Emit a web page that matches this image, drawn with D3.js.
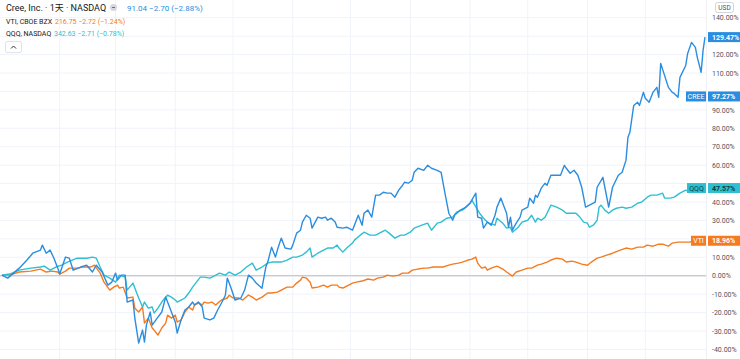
<!DOCTYPE html>
<html><head><meta charset="utf-8">
<script src="https://cdn.jsdelivr.net/npm/d3@7"></script>
<style>
html,body{margin:0;padding:0;background:#fff;}
svg{display:block;font-family:Roboto,"Noto Sans CJK SC",sans-serif;}
</style></head>
<body><svg id="c" width="740" height="359"></svg>
<script>
// Day offsets from 2020-01-01 and % change values
const creeDays = [1,4,7,10,14,17,21,22,24,26,28,30,31,34,36,38,42,45,48,50,53,56,58,60,61,63,65,66,69,70,72,74,75,76,78,79,82,84,86,87,89,91,92,94,96,98,100,101,103,105,106,109,111,113,115,117,118,120,122,125,127,129,131,133,136,138,139,141,143,144,146,148,151,152,154,156,157,159,161,162,165,167,169,170,172,174,175,178,180,183,184,186,188,189,191,193,195,197,199,201,203,205,207,209,210,212,214,215,217,220,222,224,227,229,231,233,235,236,239,241,244,247,248,250,251,253,255,257,258,260,261,263,264,265,266,268,270,271,274,275,277,278,279,281,283,284,286,289,291,293,294,296,298,300,302,304,306,309,310,313,314,316,318,319,321,323,325,326,327,329,331,332,334,335,337,339,341,342,343,345,347,349,350,352,353,356,357,359,361,362,364,365,366];
const creeValues = [0.3,-1.3,1.4,4.1,8.5,12.2,13.9,16.6,12.2,13.9,9.5,4.1,0.9,10.1,9.5,3.0,4.7,5.7,2.0,5.7,2.0,-5.1,-3.5,1.4,-2.4,0.3,0.3,-14.3,-13.2,-23.0,-36.6,-29.5,-36.0,-26.8,-19.7,-26.8,-22.5,-19.7,-11.6,-14.3,-19.7,-25.1,-31.1,-24.0,-18.6,-17.0,-14.3,-15.9,-14.3,-17.0,-23.0,-24.0,-23.0,-18.6,-14.8,-10.6,-1.3,-6.8,-13.2,-12.2,-7.8,0.3,-1.3,-4.0,-6.8,4.7,7.4,15.5,10.1,13.9,20.4,15.0,14.4,16.6,23.1,24.7,29.1,32.8,31.2,25.8,31.8,31.2,31.8,30.1,31.2,29.1,26.3,25.8,26.3,24.7,27.4,32.8,27.4,33.9,35.6,31.8,43.7,43.7,45.3,44.8,44.8,42.6,46.4,49.1,50.7,50.2,51.8,56.1,58.3,57.2,59.9,58.3,57.2,56.1,44.8,33.9,30.1,32.8,35.6,36.6,39.3,44.8,31.8,31.2,25.8,29.1,27.4,32.8,37.2,42.1,39.3,33.9,26.3,31.8,24.7,28.5,31.8,35.6,37.2,42.1,39.3,43.7,42.6,47.5,50.2,49.1,54.5,54.5,54.5,59.9,58.3,55.6,57.2,54.5,48.0,37.2,38.3,39.9,48.0,53.4,48.0,37.2,48.0,50.2,54.5,56.1,62.7,75.1,77.8,92.4,94.1,92.4,99.5,96.3,94.1,99.5,102.2,96.8,115.2,108.7,102.2,99.5,98.9,96.8,107.6,114.1,120.6,126.6,123.9,118.5,110.4,122.3,129.47];

const qqqDays = [1,5,10,16,21,23,26,29,32,35,40,45,48,50,52,54,57,60,62,65,66,69,70,72,74,75,77,79,80,82,84,86,87,89,91,92,94,96,98,100,102,104,106,109,112,114,117,119,122,125,128,131,133,136,139,141,144,146,149,152,154,157,159,161,162,165,168,170,173,175,176,178,180,183,184,187,189,192,195,197,200,202,205,208,210,213,215,219,222,224,227,229,232,235,237,240,242,244,245,248,249,251,253,254,257,258,261,263,265,266,269,271,274,276,278,279,281,283,284,286,289,292,294,297,299,301,303,305,306,308,310,311,312,314,316,318,320,323,325,328,331,333,336,338,341,344,345,348,350,353,356,358,361,363,366];
const qqqValues = [0.3,0.9,3.0,4.1,4.7,5.2,3.0,4.7,5.7,7.4,9.5,9.5,10.1,9.5,4.7,0.3,-1.3,-3.5,0.3,-0.8,-7.8,-4.0,-6.7,-12.1,-17.0,-14.3,-17.6,-17.0,-20.3,-17.6,-14.3,-11.6,-10.6,-11.6,-13.2,-14.3,-13.2,-12.1,-9.4,-6.2,-3.5,-0.8,-0.8,-1.3,0.3,1.4,0.3,2.0,0.3,2.0,4.7,6.8,3.0,4.7,6.8,7.4,7.4,7.4,8.5,10.1,10.1,11.2,12.8,15.0,10.1,12.2,13.9,15.0,15.0,16.6,15.0,12.8,15.0,17.7,19.3,22.0,23.6,22.0,22.0,23.1,24.7,23.1,20.4,22.0,22.0,23.6,25.8,27.4,28.5,24.7,28.5,29.1,31.2,31.8,34.5,35.6,37.2,39.3,41.0,35.6,33.9,31.2,29.1,28.5,27.4,31.2,28.5,25.8,26.3,23.6,26.3,29.1,30.1,32.8,29.1,31.2,30.1,31.8,33.9,38.3,37.2,35.6,33.9,33.9,33.9,31.8,29.1,28.5,26.3,27.4,30.1,37.2,38.3,35.6,33.9,35.6,36.6,37.2,36.6,37.2,39.3,39.9,42.6,43.7,43.7,44.8,42.1,42.1,42.6,44.8,46.4,45.3,46.4,47.5,47.57];

const vtiDays = [1,5,10,16,21,24,27,30,31,34,36,40,43,47,49,52,54,57,59,61,62,64,66,69,70,72,74,75,77,79,80,82,84,86,87,89,91,92,94,96,98,100,101,103,105,106,108,110,112,113,115,118,119,121,124,126,129,131,133,136,139,141,144,146,149,152,154,156,157,159,161,162,165,168,170,172,175,176,178,180,183,185,188,191,194,196,199,201,204,207,209,212,214,217,220,222,225,227,230,233,235,238,240,243,245,247,248,250,252,253,255,258,261,263,266,268,271,274,276,279,281,284,286,289,292,294,297,299,302,305,307,310,312,315,318,322,325,328,331,334,336,339,342,344,347,349,352,354,358,361,363,366];
const vtiValues = [0.3,0.3,2.0,2.5,3.6,2.0,2.5,2.0,0.9,2.5,4.1,4.1,4.7,4.7,5.7,1.4,-3.5,-7.8,-6.2,-5.1,-6.7,-6.2,-12.1,-11.6,-17.6,-19.7,-17.0,-25.7,-23.0,-28.4,-29.5,-32.2,-28.4,-25.7,-21.4,-23.0,-21.4,-25.1,-24.1,-19.7,-17.0,-18.6,-15.9,-14.9,-15.9,-14.3,-14.9,-14.3,-15.9,-14.9,-13.2,-12.1,-10.6,-12.1,-12.1,-13.2,-10.5,-11.6,-13.2,-11.6,-9.4,-9.4,-8.9,-7.8,-6.2,-6.2,-4.0,-2.4,-0.8,-1.3,-3.5,-6.7,-6.2,-5.1,-6.2,-5.1,-5.1,-6.2,-6.7,-5.6,-4.0,-3.5,-2.9,-1.8,-2.4,-1.3,-0.8,0.3,-0.2,0.3,1.4,1.4,3.0,3.6,4.1,4.1,4.7,4.7,4.7,5.7,6.3,6.8,7.4,8.5,9.0,10.1,6.8,4.1,4.7,3.0,4.1,5.2,3.6,2.0,-0.2,2.0,3.0,4.1,4.1,5.7,6.3,7.4,8.5,9.5,9.0,7.4,7.9,7.4,6.3,5.7,7.4,9.5,10.1,11.2,12.2,13.9,15.0,14.4,15.5,15.5,16.6,16.0,17.1,17.1,16.0,17.7,18.2,18.2,18.2,19.3,18.8,18.96];

const yTicks = [-40,-30,-20,-10,0,10,20,30,40,50,60,70,80,90,100,110,120,130,140];
const creeLabelValue = 97.27;

const W = 740, H = 359, plotRight = 706;
const startDate = new Date(2020,0,1);
const svg = d3.select("#c");
const x = d3.scaleTime().domain([startDate, new Date(2021,0,1)]).range([0, 705]);
const y = d3.scaleLinear().domain([0,140]).range([275.7, 17.7]);
const toDate = d => d3.timeDay.offset(startDate, d);

const boxValues = [creeValues[creeValues.length-1], creeLabelValue, qqqValues[qqqValues.length-1], vtiValues[vtiValues.length-1]];

// grid
const g = svg.append("g");
g.selectAll(".hg").data(yTicks).join("line")
  .attr("x1",0).attr("x2",plotRight).attr("y1",d=>y(d)).attr("y2",d=>y(d))
  .attr("stroke", d=> d===0 ? "#c9cbd1" : "#f0f3fa").attr("stroke-width", d=>d===0?1.2:1);
g.selectAll(".vg").data(x.ticks(d3.timeMonth.every(1)).filter(d=>x(d)>5 && x(d)<700)).join("line")
  .attr("x1",d=>x(d)).attr("x2",d=>x(d)).attr("y1",0).attr("y2",H)
  .attr("stroke","#f0f3fa");
svg.append("line").attr("x1",plotRight+0.5).attr("x2",plotRight+0.5).attr("y1",0).attr("y2",H).attr("stroke","#eef0f4");
svg.append("line").attr("x1",0).attr("x2",plotRight).attr("y1",y(0)).attr("y2",y(0)).attr("stroke","#c9cbd1").attr("stroke-width",1.2);

// axis labels (labels hidden behind the price boxes are left out, as in the reference)
const visibleTicks = yTicks.filter(t => boxValues.every(b => Math.abs(y(t)-y(b)) > 6.5));
const ax = svg.append("g").attr("transform",`translate(${plotRight},0)`)
  .call(d3.axisRight(y).tickValues(visibleTicks).tickSize(0).tickPadding(6).tickFormat(d=>d.toFixed(2)+"%"));
ax.select(".domain").remove();
ax.selectAll("text").attr("fill","#50535e").style("font-size","7px").style("font-family","Roboto, sans-serif");

// lines
const line = d3.line().x(d=>x(toDate(d[0]))).y(d=>y(d[1]));
const series = [
  {days:vtiDays, vals:vtiValues, color:"#f47b20"},
  {days:qqqDays, vals:qqqValues, color:"#2fbfd2"},
  {days:creeDays, vals:creeValues, color:"#2b8de0"}
];
series.forEach(s=>{
  svg.append("path").datum(s.days.map((d,i)=>[d,s.vals[i]]))
    .attr("d",line).attr("fill","none").attr("stroke",s.color)
    .attr("stroke-width",1.4).attr("stroke-linejoin","round");
});

// price labels on right
function valBox(v, color, textColor){
  const yy = y(v);
  svg.append("rect").attr("x",plotRight+2).attr("y",yy-5).attr("width",W-plotRight-2).attr("height",10).attr("fill",color);
  svg.append("text").attr("x",plotRight+6).attr("y",yy+2.5).attr("fill",textColor)
    .style("font-size","7px").style("font-weight","bold").text(v.toFixed(2)+"%");
}
function nameBox(v, name, color, textColor, w){
  const yy = y(v);
  svg.append("rect").attr("x",plotRight-w).attr("y",yy-5).attr("width",w).attr("height",10).attr("fill",color);
  svg.append("text").attr("x",plotRight-w/2).attr("y",yy+2.5).attr("text-anchor","middle").attr("fill",textColor)
    .style("font-size","7px").text(name);
}
valBox(creeValues[creeValues.length-1], "#2b8de0", "#fff");
nameBox(creeLabelValue, "CREE", "#2b8de0", "#fff", 20);
valBox(creeLabelValue, "#2b8de0", "#fff");
nameBox(qqqValues[qqqValues.length-1], "QQQ", "#2fbfd2", "#0e3e46", 19);
valBox(qqqValues[qqqValues.length-1], "#2fbfd2", "#0e3e46");
nameBox(vtiValues[vtiValues.length-1], "VTI", "#f47b20", "#fff", 15);
valBox(vtiValues[vtiValues.length-1], "#f47b20", "#fff");

// USD box
svg.append("rect").attr("x",715.5).attr("y",2.5).attr("width",18).attr("height",10).attr("rx",2)
  .attr("fill","#fff").attr("stroke","#d1d4dc");
svg.append("text").attr("x",724.5).attr("y",10).attr("text-anchor","middle").attr("fill","#50535e")
  .style("font-size","6.5px").text("USD");

// header legend
const hdr = svg.append("g");
hdr.append("text").attr("x",6).attr("y",11).attr("fill","#131722").style("font-size","9px")
  .text("Cree, Inc. · 1天 · NASDAQ");
hdr.append("circle").attr("cx",113.5).attr("cy",7.5).attr("r",3.5).attr("fill","#d5d7dc");
hdr.append("line").attr("x1",112).attr("x2",115).attr("y1",7.5).attr("y2",7.5).attr("stroke","#555").attr("stroke-width",0.8);
hdr.append("text").attr("x",127).attr("y",11).attr("fill","#2b8de0").style("font-size","8px")
  .text("91.04  −2.70 (−2.88%)");
hdr.append("text").attr("x",6).attr("y",24).attr("fill","#131722").style("font-size","7px").text("VTI, CBOE BZX");
hdr.append("text").attr("x",55).attr("y",24).attr("fill","#f47b20").style("font-size","7px").text("216.75  −2.72 (−1.24%)");
hdr.append("text").attr("x",6).attr("y",36).attr("fill","#131722").style("font-size","7px").text("QQQ, NASDAQ");
hdr.append("text").attr("x",54).attr("y",36).attr("fill","#2fbfd2").style("font-size","7px").text("342.63  −2.71 (−0.78%)");
hdr.append("rect").attr("x",5.5).attr("y",41.5).attr("width",16).attr("height",11).attr("rx",1.5)
  .attr("fill","#fff").attr("stroke","#e0e3eb");
hdr.append("path").attr("d","M11,48.5 L13.5,46 L16,48.5").attr("fill","none").attr("stroke","#131722").attr("stroke-width",0.9);
</script></body></html>
